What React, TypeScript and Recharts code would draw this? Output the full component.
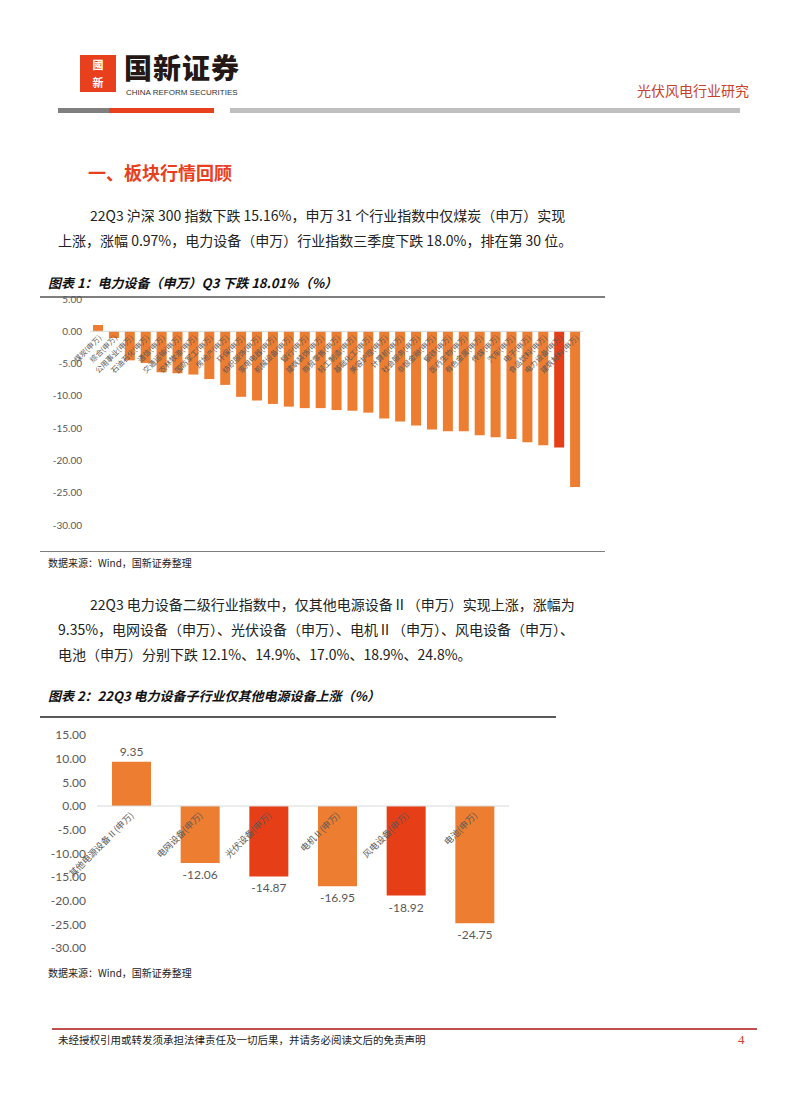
import React from 'react';
import { BarChart, Bar, XAxis, YAxis, Cell, LabelList, ReferenceLine } from 'recharts';

// 图表1：申万一级行业 22Q3 涨跌幅（%）
const industries = [
  '煤炭(申万)', '综合(申万)', '公用事业(申万)', '石油石化(申万)', '通信(申万)', '交通运输(申万)',
  '农林牧渔(申万)', '国防军工(申万)', '房地产(申万)', '环保(申万)', '纺织服饰(申万)', '家用电器(申万)',
  '机械设备(申万)', '银行(申万)', '建筑装饰(申万)', '商贸零售(申万)', '轻工制造(申万)', '基础化工(申万)',
  '美容护理(申万)', '计算机(申万)', '社会服务(申万)', '非银金融(申万)', '钢铁(申万)', '医药生物(申万)',
  '有色金属(申万)', '传媒(申万)', '汽车(申万)', '电子(申万)', '食品饮料(申万)', '电力设备(申万)',
  '建筑材料(申万)',
];
const industryReturns = [
  0.97, -1.04, -4.5, -4.9, -6.35, -6.5, -6.7, -7.4, -8.3, -10.15, -10.7, -11.25,
  -11.67, -11.9, -11.9, -12.2, -12.3, -12.6, -13.5, -13.96, -14.6, -15.2, -15.5, -15.5,
  -16.1, -16.4, -16.7, -17.2, -17.65, -18.01, -24.1,
];
const industryTicks = [5, 0, -5, -10, -15, -20, -25, -30];
const industryHighlight = ['电力设备(申万)'];

// 图表2：电力设备二级行业 22Q3 涨跌幅（%）
const subIndustries = ['其他电源设备Ⅱ(申万)', '电网设备(申万)', '光伏设备(申万)', '电机Ⅱ(申万)', '风电设备(申万)', '电池(申万)'];
const subReturns = [9.35, -12.06, -14.87, -16.95, -18.92, -24.75];
const subTicks = [15, 10, 5, 0, -5, -10, -15, -20, -25, -30];
const subHighlight = ['光伏设备(申万)', '风电设备(申万)'];

const ORANGE = '#ED7D31';
const RED = '#E63E17';
const BRAND_RED = '#E8401C';
const CJK = '"Noto Sans CJK SC", "Noto Sans", sans-serif';
const NUM = 'Lato, "Liberation Sans", sans-serif';

const chart1Data = industries.map((name, i) => ({ name, value: industryReturns[i] }));
const chart2Data = subIndustries.map((name, i) => ({ name, value: subReturns[i] }));

// bar box from label props, works whether height is signed or not
const boxOf = (p: any) => {
  const v = p.viewBox && p.viewBox.width !== undefined ? p.viewBox : p;
  const x = Number(v.x), y = Number(v.y), w = Number(v.width), h = Number(v.height);
  return { x, w, top: Math.min(y, y + h), bottom: Math.max(y, y + h) };
};

const makeNameLabel = (values: number[], fontSize: number, dx: number, dy: number) => (props: any) => {
  const { x, w, top, bottom } = boxOf(props);
  const v = values[props.index];
  const zero = v >= 0 ? bottom : top;
  const ax = x + w / 2 + dx;
  const ay = zero + dy;
  return (
    <text
      x={ax}
      y={ay}
      textAnchor="end"
      fontSize={fontSize}
      fill="#595959"
      fontFamily={CJK}
      transform={`rotate(-45 ${ax} ${ay})`}
    >
      {props.value}
    </text>
  );
};

const valueLabel = (props: any) => {
  const { x, w, top, bottom } = boxOf(props);
  const v = Number(props.value);
  const y = v >= 0 ? top - 6 : bottom + 16;
  return (
    <text x={x + w / 2} y={y} textAnchor="middle" fontSize={12} fill="#595959" fontFamily={NUM}>
      {v.toFixed(2)}
    </text>
  );
};

const abs = (left: number, top: number, extra: React.CSSProperties = {}): React.CSSProperties => ({
  position: 'absolute',
  left,
  top,
  whiteSpace: 'nowrap',
  ...extra,
});

const bodyText: React.CSSProperties = { fontFamily: CJK, fontSize: 14, color: '#222', lineHeight: '18px' };
const chartTitle: React.CSSProperties = { fontFamily: CJK, fontSize: 13, fontWeight: 700, fontStyle: 'italic', color: '#111', lineHeight: '14px' };
const sourceText: React.CSSProperties = { fontFamily: CJK, fontSize: 10, color: '#222', lineHeight: '12px' };

export default function App() {
  return (
    <div style={{ position: 'absolute', left: 0, top: 0, width: 802, height: 1106, background: '#fff', overflow: 'hidden' }}>
      {/* header */}
      <div style={abs(80, 55, { width: 36, height: 37, background: BRAND_RED, color: '#fff', fontFamily: CJK, fontWeight: 700, fontSize: 11, lineHeight: '18px', textAlign: 'center', overflow: 'hidden' })}>
        國<br />新
      </div>
      <div style={abs(124, 53, { fontFamily: CJK, fontWeight: 900, fontSize: 28, lineHeight: '28px', color: '#231815', letterSpacing: 1 })}>国新证券</div>
      <div style={abs(126, 88, { fontFamily: '"Liberation Sans", sans-serif', fontSize: 8, lineHeight: '9px', color: '#333' })}>CHINA REFORM SECURITIES</div>
      <div style={abs(637, 81, { fontFamily: CJK, fontSize: 14, lineHeight: '18px', color: '#C8412A' })}>光伏风电行业研究</div>
      <div style={abs(58, 108, { width: 51, height: 5, background: '#7F7F7F' })} />
      <div style={abs(109, 108, { width: 105, height: 5, background: BRAND_RED })} />
      <div style={abs(230, 108, { width: 510, height: 5, background: '#BFBFBF' })} />

      {/* section */}
      <div style={abs(88, 161, { fontFamily: CJK, fontSize: 18, fontWeight: 700, lineHeight: '22px', color: BRAND_RED })}>一、板块行情回顾</div>
      <div style={abs(90, 206, bodyText)}>22Q3 沪深 300 指数下跌 15.16%，申万 31 个行业指数中仅煤炭（申万）实现</div>
      <div style={abs(58, 231, bodyText)}>上涨，涨幅 0.97%，电力设备（申万）行业指数三季度下跌 18.0%，排在第 30 位。</div>

      {/* chart 1 */}
      <div style={abs(48, 276, chartTitle)}>图表 1：电力设备（申万）Q3 下跌 18.01%（%）</div>
      <div style={abs(40, 296, { width: 565, height: 2, background: '#7F7F7F' })} />
      <div style={abs(0, 290)}>
        <BarChart
          width={620}
          height={250}
          data={chart1Data}
          margin={{ top: 9, right: 37, bottom: 15, left: 40 }}
        >
          <XAxis dataKey="name" hide />
          <YAxis
            width={50}
            domain={[-30, 5]}
            ticks={industryTicks}
            interval={0}
            axisLine={false}
            tickLine={false}
            tickSize={0}
            tickMargin={8}
            tickFormatter={(v: number) => v.toFixed(2)}
            tick={{ fontSize: 10, fill: '#595959', fontFamily: NUM }}
          />
          <ReferenceLine y={0} stroke="#D9D9D9" />
          <Bar dataKey="value" barSize={10} isAnimationActive={false}>
            {chart1Data.map((d) => (
              <Cell key={d.name} fill={industryHighlight.includes(d.name) ? RED : ORANGE} />
            ))}
            <LabelList dataKey="name" content={makeNameLabel(industryReturns, 7.5, 4, 7)} />
          </Bar>
        </BarChart>
      </div>
      <div style={abs(40, 551, { width: 565, height: 1, background: '#7F7F7F' })} />
      <div style={abs(48, 557, sourceText)}>数据来源：Wind，国新证券整理</div>

      <div style={abs(90, 595, bodyText)}>22Q3 电力设备二级行业指数中，仅其他电源设备Ⅱ（申万）实现上涨，涨幅为</div>
      <div style={abs(58, 620, bodyText)}>9.35%，电网设备（申万）、光伏设备（申万）、电机Ⅱ（申万）、风电设备（申万）、</div>
      <div style={abs(58, 645, bodyText)}>电池（申万）分别下跌 12.1%、14.9%、17.0%、18.9%、24.8%。</div>

      {/* chart 2 */}
      <div style={abs(48, 689, chartTitle)}>图表 2：22Q3 电力设备子行业仅其他电源设备上涨（%）</div>
      <div style={abs(40, 716, { width: 516, height: 2, background: '#595959' })} />
      <div style={abs(0, 725)}>
        <BarChart
          width={560}
          height={240}
          data={chart2Data}
          margin={{ top: 10, right: 51, bottom: 17, left: 40 }}
        >
          <XAxis dataKey="name" hide />
          <YAxis
            width={57}
            domain={[-30, 15]}
            ticks={subTicks}
            interval={0}
            axisLine={false}
            tickLine={false}
            tickSize={0}
            tickMargin={11}
            tickFormatter={(v: number) => v.toFixed(2)}
            tick={{ fontSize: 12, fill: '#595959', fontFamily: NUM }}
          />
          <ReferenceLine y={0} stroke="#D9D9D9" />
          <Bar dataKey="value" barSize={39} isAnimationActive={false}>
            {chart2Data.map((d) => (
              <Cell key={d.name} fill={subHighlight.includes(d.name) ? RED : ORANGE} />
            ))}
            <LabelList dataKey="name" content={makeNameLabel(subReturns, 9, 3, 10)} />
            <LabelList dataKey="value" content={valueLabel} />
          </Bar>
        </BarChart>
      </div>
      <div style={abs(48, 967, sourceText)}>数据来源：Wind，国新证券整理</div>

      {/* footer */}
      <div style={abs(52, 1028, { width: 705, height: 2, background: '#C0504D' })} />
      <div style={abs(58, 1033, { fontFamily: CJK, fontSize: 10.5, lineHeight: '14px', color: '#222' })}>
        未经授权引用或转发须承担法律责任及一切后果，并请务必阅读文后的免责声明
      </div>
      <div style={abs(738, 1032, { fontFamily: '"Liberation Serif", serif', fontSize: 13, lineHeight: '16px', color: '#C8412A' })}>4</div>
    </div>
  );
}
